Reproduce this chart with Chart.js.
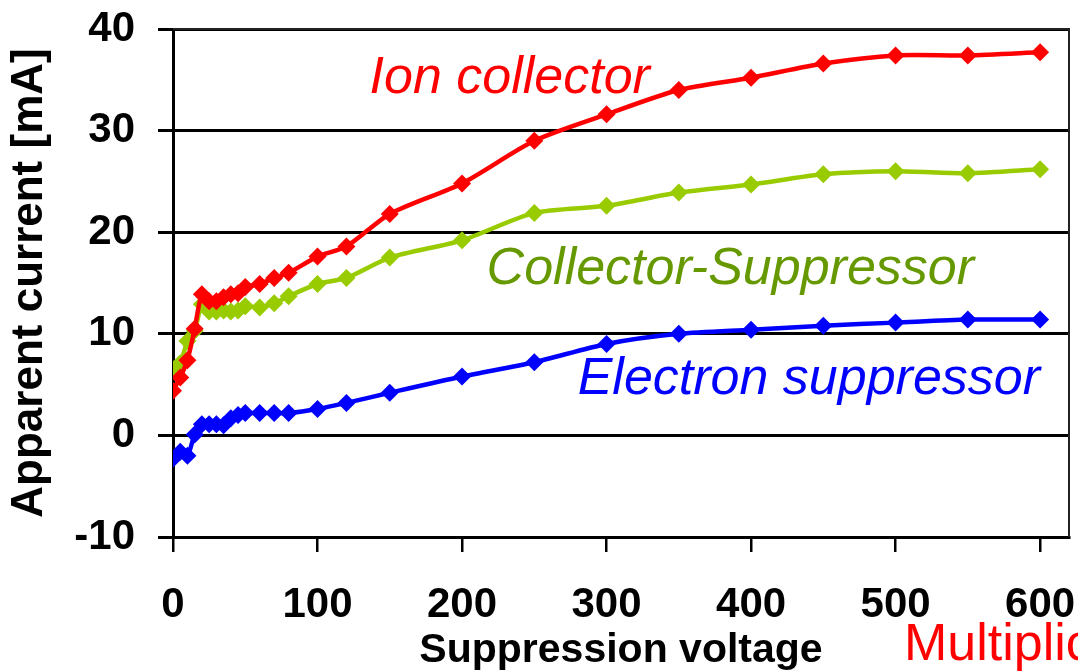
<!DOCTYPE html>
<html>
<head>
<meta charset="utf-8">
<script src="https://cdn.jsdelivr.net/npm/chart.js@4/dist/chart.umd.min.js"></script>
<style>
  html, body { margin: 0; padding: 0; background: #fff; }
  #wrap { width: 1078px; height: 672px; }
</style>
</head>
<body>
<div id="wrap"><canvas id="chart" width="1078" height="672"></canvas></div>
<script>
// Suppression voltage steps (V)
const voltages = [0, 5, 10, 15, 20, 25, 30, 35, 40, 45, 50, 60, 70, 80, 100, 120, 150, 200, 250, 300, 350, 400, 450, 500, 550, 600];

// Apparent currents (mA)
const ionCollector = [4.4, 5.7, 7.4, 10.5, 13.9, 13.2, 13.2, 13.6, 13.9, 14.0, 14.6, 14.9, 15.5, 16.0, 17.6, 18.6, 21.8, 24.8, 29.0, 31.6, 34.0, 35.2, 36.6, 37.4, 37.4, 37.7];
const collectorSuppressor = [6.5, 7.1, 9.3, 10.3, 12.9, 12.2, 12.2, 12.3, 12.2, 12.3, 12.7, 12.6, 13.0, 13.7, 14.9, 15.5, 17.5, 19.2, 21.9, 22.6, 23.9, 24.7, 25.7, 26.0, 25.8, 26.2];
const electronSuppressor = [-2.3, -1.6, -2.0, 0.1, 1.1, 1.1, 1.1, 1.0, 1.7, 2.0, 2.2, 2.2, 2.2, 2.2, 2.6, 3.2, 4.2, 5.8, 7.2, 9.0, 10.0, 10.4, 10.8, 11.1, 11.4, 11.4];

const xTicks = [0, 100, 200, 300, 400, 500, 600];
const yTicks = [-10, 0, 10, 20, 30, 40];

// series labels written next to the curves: [text, voltage, current, colour]
const curveLabels = [
    ["Ion collector", 136, 33.7, "#ff0000"],
    ["Collector-Suppressor", 217, 14.9, "#669900"],
    ["Electron suppressor", 280, 4.05, "#0000ff"]
];

function toPoints(values) {
    return voltages.map((v, i) => ({ x: v, y: values[i] }));
}

function series(label, values, color) {
    return {
        label: label,
        data: toPoints(values),
        borderColor: color,
        backgroundColor: color,
        borderWidth: 4.5,
        pointStyle: "rectRot",
        pointRadius: 9,
        pointBorderWidth: 0,
        pointBackgroundColor: color,
        tension: 0.25,
        fill: false
    };
}

// box around the plot, curve labels and the stray caption at the bottom
const decorations = {
    id: "decorations",
    beforeDatasetsDraw(chart) {
        const { ctx, chartArea: a } = chart;
        ctx.save();
        ctx.strokeStyle = "#222";
        ctx.lineWidth = 2;
        ctx.beginPath();
        ctx.moveTo(a.left, a.top);
        ctx.lineTo(a.right, a.top);
        ctx.lineTo(a.right, a.bottom);
        ctx.stroke();
        ctx.restore();
    },
    afterDatasetsDraw(chart) {
        const { ctx, scales } = chart;
        ctx.save();
        ctx.font = "italic 52px 'Liberation Sans', Arial, sans-serif";
        ctx.textAlign = "left";
        ctx.textBaseline = "alphabetic";
        curveLabels.forEach(([text, v, c, color]) => {
            ctx.fillStyle = color;
            ctx.fillText(text, scales.x.getPixelForValue(v), scales.y.getPixelForValue(c));
        });
        ctx.font = "52px 'Liberation Sans', Arial, sans-serif";
        ctx.fillStyle = "#ff0000";
        ctx.fillText("Multiplic", 904, 660);
        ctx.restore();
    }
};

const font = (size) => ({ family: "'Liberation Sans', Arial, sans-serif", size: size, weight: "bold" });

const ctx = document.getElementById("chart").getContext("2d");
new Chart(ctx, {
    type: "line",
    data: {
        datasets: [
            series("Ion collector", ionCollector, "#ff0000"),
            series("Collector-Suppressor", collectorSuppressor, "#99cc00"),
            series("Electron suppressor", electronSuppressor, "#0000ff")
        ]
    },
    options: {
        responsive: false,
        animation: false,
        layout: { padding: { top: 29, right: 7, left: 0, bottom: 0 } },
        plugins: {
            legend: { display: false },
            tooltip: { enabled: false }
        },
        scales: {
            x: {
                type: "linear",
                min: 0,
                max: 620,
                afterBuildTicks: (scale) => { scale.ticks = xTicks.map(v => ({ value: v })); },
                afterFit: (scale) => {
                    scale.height = 135;
                    scale.paddingLeft = 0;
                    scale.paddingRight = 0;
                },
                grid: {
                    drawOnChartArea: false,
                    drawTicks: true,
                    tickLength: 15,
                    color: "#000",
                    lineWidth: 2.5
                },
                border: { display: true, color: "#000", width: 3 },
                ticks: {
                    color: "#000",
                    padding: 28,
                    maxRotation: 0,
                    font: font(42)
                },
                title: {
                    display: true,
                    text: "Suppression voltage",
                    color: "#000",
                    padding: { top: 0, bottom: 0 },
                    font: Object.assign(font(41), { lineHeight: 1.05 })
                }
            },
            y: {
                min: -10,
                max: 40,
                afterBuildTicks: (scale) => { scale.ticks = yTicks.map(v => ({ value: v })); },
                afterFit: (scale) => {
                    scale.width = 173;
                    scale.paddingTop = 0;
                    scale.paddingBottom = 0;
                },
                grid: {
                    drawOnChartArea: true,
                    drawTicks: true,
                    tickLength: 15,
                    color: "#000",
                    lineWidth: 3
                },
                border: { display: true, color: "#000", width: 3 },
                ticks: {
                    color: "#000",
                    padding: 23,
                    font: font(42)
                },
                title: {
                    display: true,
                    text: "Apparent current [mA]",
                    color: "#000",
                    padding: { top: 3, bottom: 0 },
                    font: Object.assign(font(44), { lineHeight: 1.2 })
                }
            }
        }
    },
    plugins: [decorations]
});
</script>
</body>
</html>
